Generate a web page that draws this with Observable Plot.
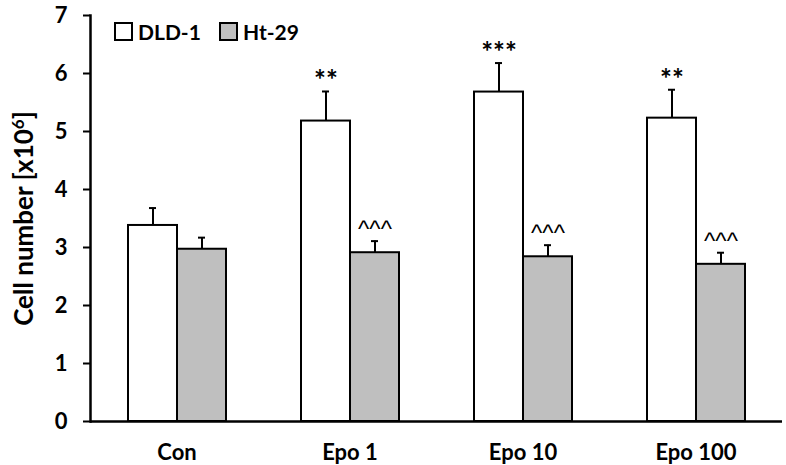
<!DOCTYPE html>
<html>
<head>
<meta charset="utf-8">
<script src="https://cdn.jsdelivr.net/npm/d3@7"></script>
<script src="https://cdn.jsdelivr.net/npm/@observablehq/plot@0.6"></script>
<style>
  html, body { margin: 0; padding: 0; background: #fff; }
  #wrap { position: relative; width: 786px; height: 465px; font-family: Lato, "Open Sans", sans-serif; }
  .leg { position: absolute; top: 21px; display: flex; align-items: center; font-weight: 700; font-size: 21px; color: #000; line-height: 21px; }
  .sw { width: 15px; height: 15px; border: 2px solid #000; margin-right: 5px; box-sizing: content-box; }
</style>
</head>
<body>
<div id="wrap"></div>
<script>
const categories = ["Con", "Epo 1", "Epo 10", "Epo 100"];
const seriesNames = ["DLD-1", "Ht-29"];
const dldMean = [3.38, 5.18, 5.68, 5.23];
const dldErr  = [0.30, 0.51, 0.50, 0.49];
const htMean  = [2.97, 2.91, 2.84, 2.71];
const htErr   = [0.20, 0.20, 0.20, 0.20];
const dldMarks = ["", "**", "***", "**"];
const htMarks  = ["", "^^^", "^^^", "^^^"];
const yTicks = [0, 1, 2, 3, 4, 5, 6, 7];
const seriesColors = ["#ffffff", "#bfbfbf"];
const yLabelMain = "Cell number [x10";
const yLabelSup = "6";
const yLabelEnd = "]";

const rows = [];
categories.forEach((c, i) => {
  rows.push({cat: c, series: seriesNames[0], value: dldMean[i], err: dldErr[i], sig: dldMarks[i]});
  rows.push({cat: c, series: seriesNames[1], value: htMean[i], err: htErr[i], sig: htMarks[i]});
});

const font = "Lato, 'Open Sans', sans-serif";

const chart = Plot.plot({
  width: 786,
  height: 465,
  marginLeft: 88,
  marginRight: 3,
  marginTop: 15,
  marginBottom: 44,
  style: {fontFamily: font, color: "#000", background: "#fff"},
  fx: {domain: categories, paddingInner: 0, paddingOuter: 0},
  x: {domain: seriesNames, paddingInner: 0, paddingOuter: 0.764, axis: null},
  y: {domain: [0, 7]},
  color: {domain: seriesNames, range: seriesColors},
  marks: [
    Plot.barY(rows, {fx: "cat", x: "series", y: "value", fill: "series", stroke: "#000", strokeWidth: 2}),
    Plot.ruleX(rows, {fx: "cat", x: "series", y1: "value", y2: d => d.value + d.err, stroke: "#000", strokeWidth: 2}),
    Plot.tickY(rows, {fx: "cat", x: "series", y: d => d.value + d.err, stroke: "#000", strokeWidth: 2, insetLeft: 21, insetRight: 21}),
    Plot.text(rows.filter(d => d.sig.startsWith("*")), {fx: "cat", x: "series", y: d => d.value + d.err, text: "sig", lineAnchor: "bottom", dy: -1, fontSize: 28, fontWeight: 700}),
    Plot.text(rows.filter(d => d.sig.startsWith("^")), {fx: "cat", x: "series", y: d => d.value + d.err, text: "sig", lineAnchor: "bottom", dy: -4, fontSize: 24, fontFamily: "'Liberation Sans', Arial, sans-serif"}),
    Plot.ruleY([0], {stroke: "#000", strokeWidth: 2.5}),
    Plot.frame({anchor: "left", facetAnchor: "left", stroke: "#000", strokeWidth: 2.5}),
    Plot.axisY({ticks: yTicks, tickFormat: d3.format("d"), tickSize: 7, tickPadding: 16, strokeWidth: 2, fontSize: 22, fontWeight: 700,
      label: yLabelMain + yLabelSup + yLabelEnd, labelAnchor: "center", labelOffset: 76, labelArrow: "none"}),
    Plot.axisFx({anchor: "bottom", tickSize: 0, tickPadding: 23, fontSize: 22, fontWeight: 700, label: null})
  ]
});

const wrap = document.getElementById("wrap");
wrap.appendChild(chart);
chart.querySelectorAll("text").forEach(t => {
  if (t.textContent.includes("Cell number")) {
    t.setAttribute("font-size", 26);
    t.setAttribute("font-weight", 700);
    const host = t.querySelector("tspan") || t;
    host.textContent = "";
    const ns = "http://www.w3.org/2000/svg";
    const a = document.createElementNS(ns, "tspan"); a.textContent = yLabelMain;
    const b = document.createElementNS(ns, "tspan"); b.textContent = yLabelSup;
    b.setAttribute("font-size", 17); b.setAttribute("dy", "-0.5em");
    const c = document.createElementNS(ns, "tspan"); c.textContent = yLabelEnd;
    c.setAttribute("dy", "0.32em");
    host.appendChild(a); host.appendChild(b); host.appendChild(c);
  }
});

const legendX = [114, 219];
seriesNames.forEach((s, i) => {
  const item = document.createElement("div");
  item.className = "leg";
  item.style.left = legendX[i] + "px";
  const sw = document.createElement("div");
  sw.className = "sw";
  sw.style.background = seriesColors[i];
  const lab = document.createElement("span");
  lab.textContent = s;
  item.appendChild(sw);
  item.appendChild(lab);
  wrap.appendChild(item);
});
</script>
</body>
</html>
